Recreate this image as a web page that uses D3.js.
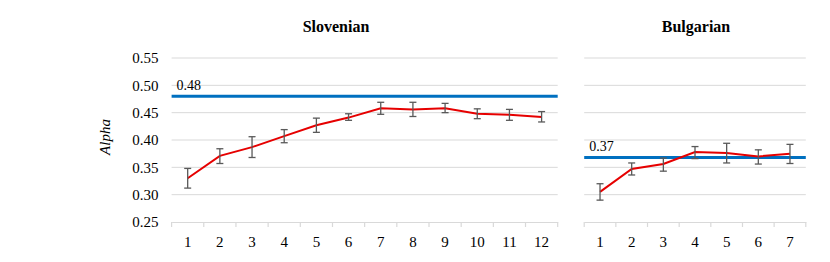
<!DOCTYPE html>
<html><head><meta charset="utf-8">
<script src="https://cdn.jsdelivr.net/npm/d3@7"></script>
<style>body{margin:0;background:#fff}svg{display:block}svg text{font-family:"Liberation Serif","Times New Roman",Times,serif !important}</style>
</head><body><svg id="c" width="830" height="262"></svg>
<script>
const yTicks = [0.25,0.30,0.35,0.40,0.45,0.50,0.55];
const sloCats = [1,2,3,4,5,6,7,8,9,10,11,12];
const sloMean = [0.330,0.371,0.387,0.407,0.427,0.441,0.458,0.456,0.458,0.448,0.446,0.442];
const sloHi   = [0.348,0.384,0.406,0.419,0.440,0.448,0.469,0.469,0.467,0.457,0.456,0.452];
const sloLo   = [0.312,0.357,0.368,0.395,0.414,0.436,0.447,0.443,0.450,0.439,0.436,0.433];
const sloRef = 0.48;
const bulCats = [1,2,3,4,5,6,7];
const bulMean = [0.305,0.347,0.356,0.378,0.376,0.370,0.375];
const bulHi   = [0.320,0.358,0.367,0.388,0.394,0.382,0.392];
const bulLo   = [0.290,0.336,0.343,0.366,0.358,0.356,0.357];
const bulRef = 0.368;

const svg = d3.select("#c");
const y = d3.scaleLinear().domain([0.25,0.55]).range([222,58]);

function panel(cats, mean, hi, lo, ref, x0, x1, title, titleX, showY){
  const x = d3.scaleBand().domain(cats).range([x0,x1]);
  const g = svg.append("g");
  g.selectAll("line.grid").data(yTicks.filter(t=>t>0.26)).join("line")
    .attr("x1",x0).attr("x2",x1).attr("y1",d=>y(d)).attr("y2",d=>y(d))
    .attr("stroke","#d9d9d9").attr("stroke-width",1);
  const ax = d3.axisBottom(x).tickSize(0).tickPadding(14);
  const axg = g.append("g").attr("transform",`translate(0,${y(0.25)})`).call(ax);
  axg.select(".domain").attr("stroke","#d9d9d9").attr("stroke-width",1.2);
  axg.selectAll("text").style("font-size","15px").attr("fill","#000");
  const bounds = cats.map(c=>x(c)).concat([x1]);
  g.selectAll("line.bt").data(bounds).join("line")
    .attr("x1",d=>d).attr("x2",d=>d).attr("y1",y(0.25)).attr("y2",y(0.25)+5)
    .attr("stroke","#d9d9d9").attr("stroke-width",1.2);
  if(showY){
    const ay = d3.axisLeft(y).tickValues(yTicks).tickFormat(d3.format(".2f")).tickSize(0).tickPadding(13);
    const ayg = g.append("g").attr("transform",`translate(${x0},0)`).call(ay);
    ayg.select(".domain").remove();
    ayg.selectAll("text").style("font-size","15px").attr("fill","#000");
  }
  g.append("line").attr("x1",x0).attr("x2",x1).attr("y1",y(ref)).attr("y2",y(ref))
    .attr("stroke","#0070c0").attr("stroke-width",3);
  g.append("text").attr("x",x0+5).attr("y",y(ref)-6).text(ref.toFixed(2))
    .style("font-size","14px").attr("fill","#000");
  const cx = c=>x(c)+x.bandwidth()/2;
  g.append("path").datum(cats.map((c,i)=>[cx(c),y(mean[i])]))
    .attr("d",d3.line()).attr("fill","none").attr("stroke","#e60000").attr("stroke-width",2);
  const eb = g.selectAll("g.eb").data(cats).join("g");
  eb.append("line").attr("x1",cx).attr("x2",cx).attr("y1",(d,i)=>y(hi[i])).attr("y2",(d,i)=>y(lo[i]))
    .attr("stroke","#595959").attr("stroke-width",1.3);
  eb.append("line").attr("x1",d=>cx(d)-3.5).attr("x2",d=>cx(d)+3.5).attr("y1",(d,i)=>y(hi[i])).attr("y2",(d,i)=>y(hi[i]))
    .attr("stroke","#595959").attr("stroke-width",1.3);
  eb.append("line").attr("x1",d=>cx(d)-3.5).attr("x2",d=>cx(d)+3.5).attr("y1",(d,i)=>y(lo[i])).attr("y2",(d,i)=>y(lo[i]))
    .attr("stroke","#595959").attr("stroke-width",1.3);
  g.append("text").attr("x",titleX).attr("y",32).attr("text-anchor","middle").text(title)
    .style("font-size","16px").style("font-weight","bold").attr("fill","#000");
}
panel(sloCats, sloMean, sloHi, sloLo, sloRef, 171.6, 557.7, "Slovenian", 336, true);
panel(bulCats, bulMean, bulHi, bulLo, bulRef, 584.2, 805.8, "Bulgarian", 696, false);
svg.append("text").attr("transform","translate(110,137) rotate(-90)").attr("text-anchor","middle")
  .text("Alpha").style("font-size","15px").style("font-style","italic").attr("fill","#000");
</script></body></html>
